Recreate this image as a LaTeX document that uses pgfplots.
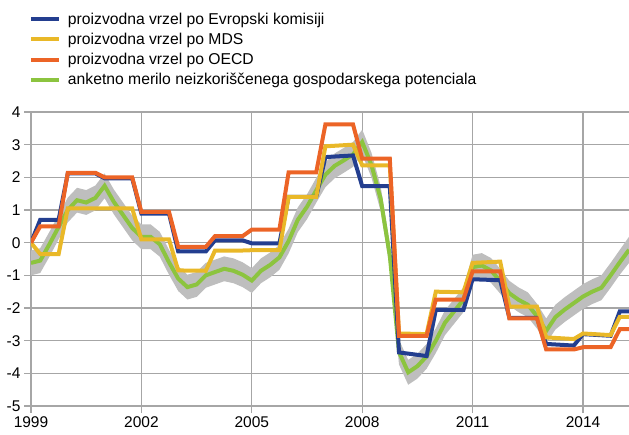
\documentclass[border=0pt]{standalone}
\usepackage{fontspec}
\setmainfont{Liberation Sans}
\usepackage{pgfplots}
\usepackage{pgfplotstable}
\pgfplotsset{compat=1.18}
\definecolor{ecblue}{RGB}{35,62,143}
\definecolor{mdsyellow}{RGB}{233,184,40}
\definecolor{oecdorange}{RGB}{236,100,38}
\definecolor{surveygreen}{RGB}{140,196,63}
\definecolor{bandgrey}{RGB}{190,190,190}
\definecolor{gridgrey}{RGB}{166,166,166}

\pgfplotstableread{
x g lo w
1999.00 -0.62 -1.00 0.76
1999.25 -0.55 -0.93 0.76
1999.50 -0.05 -0.43 0.76
1999.75 0.48 0.10 0.76
2000.00 1.00 0.62 0.76
2000.25 1.30 0.92 0.76
2000.50 1.23 0.85 0.76
2000.75 1.37 0.99 0.76
2001.00 1.74 1.36 0.76
2001.25 1.25 0.87 0.76
2001.50 0.85 0.47 0.76
2001.75 0.45 0.07 0.76
2002.00 0.18 -0.20 0.76
2002.25 0.18 -0.20 0.76
2002.50 -0.05 -0.43 0.76
2002.75 -0.60 -0.98 0.76
2003.00 -1.10 -1.48 0.76
2003.25 -1.36 -1.74 0.76
2003.50 -1.28 -1.66 0.76
2003.75 -1.00 -1.38 0.76
2004.00 -0.90 -1.28 0.76
2004.25 -0.80 -1.18 0.76
2004.50 -0.86 -1.24 0.76
2004.75 -0.98 -1.36 0.76
2005.00 -1.16 -1.54 0.76
2005.25 -0.86 -1.24 0.76
2005.50 -0.68 -1.06 0.76
2005.75 -0.45 -0.83 0.76
2006.00 0.05 -0.33 0.76
2006.25 0.70 0.32 0.76
2006.50 1.10 0.72 0.76
2006.75 1.60 1.22 0.76
2007.00 2.08 1.70 0.76
2007.25 2.35 1.97 0.76
2007.50 2.52 2.14 0.76
2007.75 2.70 2.32 0.76
2008.00 3.08 2.70 0.76
2008.25 2.38 2.00 0.76
2008.50 1.35 0.97 0.76
2008.75 -0.40 -0.78 0.76
2009.00 -3.35 -3.73 0.76
2009.25 -3.97 -4.35 0.76
2009.50 -3.78 -4.16 0.76
2009.75 -3.48 -3.86 0.76
2010.00 -3.00 -3.38 0.76
2010.25 -2.45 -2.83 0.76
2010.50 -2.10 -2.48 0.76
2010.75 -1.75 -2.13 0.76
2011.00 -0.75 -1.13 0.76
2011.25 -0.70 -1.08 0.76
2011.50 -0.85 -1.23 0.76
2011.75 -1.18 -1.56 0.76
2012.00 -1.55 -1.93 0.76
2012.25 -1.75 -2.13 0.76
2012.50 -1.90 -2.28 0.76
2012.75 -2.25 -2.63 0.76
2013.00 -2.70 -3.08 0.76
2013.25 -2.28 -2.66 0.76
2013.50 -2.05 -2.43 0.76
2013.75 -1.85 -2.23 0.76
2014.00 -1.65 -2.03 0.76
2014.25 -1.50 -1.88 0.76
2014.50 -1.38 -1.76 0.76
2014.75 -1.00 -1.38 0.76
2015.00 -0.60 -0.98 0.76
2015.25 -0.22 -0.62 0.80
}\survey

\begin{document}
\begin{tikzpicture}
\path[use as bounding box] (0,0) rectangle (629pt,434pt);
\begin{axis}[
  at={(31pt,28pt)}, anchor=south west,
  scale only axis, width=598pt, height=294pt,
  xmin=1999, xmax=2015.25, ymin=-5, ymax=4,
  xtick={1999,2002,2005,2008,2011,2014},
  ytick={-5,-4,-3,-2,-1,0,1,2,3,4},
  xticklabel style={/pgf/number format/set thousands separator={}},
  /pgf/number format/assume math mode=true,
  axis line style={draw=none},
  grid=major,
  major grid style={gridgrey, line width=1.2pt},
  tick style={gridgrey, line width=1.2pt},
  tick align=outside, major tick length=7pt,
  xtick pos=bottom, ytick pos=left,
  ticklabel style={font=\fontsize{15.5}{18}\selectfont, text=black},
  legend style={at={(-0.0087,1.352)}, anchor=north west, draw=none, fill=none,
    font=\fontsize{15.7}{18}\selectfont, row sep=3.3pt},
  legend cell align=left,
  legend image code/.code={\draw[#1] (0pt,0pt) -- (28pt,0pt);},
]
\addlegendimage{ecblue, line width=4pt}
\addlegendentry{\hspace{5pt}proizvodna vrzel po Evropski komisiji}
\addlegendimage{mdsyellow, line width=4pt}
\addlegendentry{\hspace{5pt}proizvodna vrzel po MDS}
\addlegendimage{oecdorange, line width=4pt}
\addlegendentry{\hspace{5pt}proizvodna vrzel po OECD}
\addlegendimage{surveygreen, line width=4pt}
\addlegendentry{\hspace{5pt}anketno merilo neizkoriščenega gospodarskega potenciala}

\addplot[draw=none, stack plots=y, forget plot] table[x=x, y=lo] {\survey};
\addplot[draw=none, fill=bandgrey, stack plots=y, forget plot] table[x=x, y=w] {\survey} \closedcycle;
\addplot[surveygreen, line width=4pt, forget plot] table[x=x, y=g] {\survey};

% European Commission
\addplot[ecblue, line width=4pt, forget plot] coordinates {
(1999,0) (1999.25,0.7) (1999.75,0.7)
(2000,2.12) (2000.75,2.12)
(2001,1.97) (2001.75,1.97)
(2002,0.89) (2002.75,0.89)
(2003,-0.27) (2003.75,-0.27)
(2004,0.07) (2004.75,0.07)
(2005,-0.02) (2005.75,-0.02)
(2006,1.40) (2006.75,1.40)
(2007,2.62) (2007.75,2.67)
(2008,1.73) (2008.75,1.73)
(2009,-3.36) (2009.75,-3.47)
(2010,-2.06) (2010.75,-2.06)
(2011,-1.12) (2011.75,-1.15)
(2012,-2.30) (2012.75,-2.30)
(2013,-3.10) (2013.75,-3.15)
(2014,-2.80) (2014.75,-2.85)
(2015,-2.10) (2015.25,-2.10)
};
% IMF
\addplot[mdsyellow, line width=4pt, forget plot] coordinates {
(1999,0) (1999.25,-0.35) (1999.75,-0.35)
(2000,1.05) (2000.75,1.05)
(2001,1.05) (2001.75,1.05)
(2002,0.10) (2002.75,0.10)
(2003,-0.85) (2003.75,-0.86)
(2004,-0.24) (2004.75,-0.24)
(2005,-0.23) (2005.75,-0.23)
(2006,1.40) (2006.75,1.40)
(2007,2.95) (2007.75,3.00)
(2008,2.37) (2008.75,2.37)
(2009,-2.78) (2009.75,-2.80)
(2010,-1.50) (2010.75,-1.52)
(2011,-0.62) (2011.75,-0.58)
(2012,-1.96) (2012.75,-1.96)
(2013,-2.90) (2013.75,-2.95)
(2014,-2.78) (2014.75,-2.83)
(2015,-2.27) (2015.25,-2.27)
};
% OECD
\addplot[oecdorange, line width=4pt, forget plot] coordinates {
(1999,0) (1999.25,0.5) (1999.75,0.5)
(2000,2.14) (2000.75,2.14)
(2001,2.00) (2001.75,2.00)
(2002,0.94) (2002.75,0.94)
(2003,-0.13) (2003.75,-0.13)
(2004,0.20) (2004.75,0.20)
(2005,0.40) (2005.75,0.40)
(2006,2.15) (2006.75,2.15)
(2007,3.62) (2007.75,3.62)
(2008,2.57) (2008.75,2.57)
(2009,-2.85) (2009.75,-2.85)
(2010,-1.74) (2010.75,-1.74)
(2011,-0.88) (2011.75,-0.88)
(2012,-2.32) (2012.75,-2.32)
(2013,-3.27) (2013.75,-3.27)
(2014,-3.20) (2014.75,-3.20)
(2015,-2.65) (2015.25,-2.65)
};
\end{axis}
\end{tikzpicture}
\end{document}
